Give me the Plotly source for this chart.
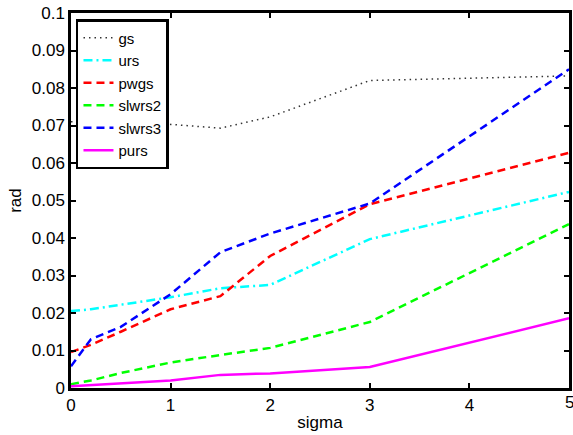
import plotly.graph_objects as go

# sigma values on the x axis
sigma = [0, 0.2, 0.5, 1, 1.5, 2, 3, 5]

# rad error for each method
gs = [0.071, 0.0708, 0.0705, 0.0703, 0.0693, 0.0723, 0.0820, 0.0832]
urs = [0.0205, 0.0210, 0.0222, 0.0242, 0.0266, 0.0275, 0.0397, 0.0523]
pwgs = [0.0096, 0.0115, 0.0150, 0.0210, 0.0245, 0.0352, 0.0490, 0.0627]
slwrs2 = [0.0010, 0.0020, 0.0040, 0.0068, 0.0088, 0.0107, 0.0176, 0.0437]
slwrs3 = [0.0058, 0.0130, 0.0163, 0.0250, 0.0362, 0.0412, 0.0492, 0.0850]
purs = [0.0005, 0.0008, 0.0013, 0.0020, 0.0035, 0.0039, 0.0056, 0.0186]

x_ticks = [0, 1, 2, 3, 4, 5]
y_ticks = [0, 0.01, 0.02, 0.03, 0.04, 0.05, 0.06, 0.07, 0.08, 0.09, 0.1]
y_tick_text = ['0', '0.01', '0.02', '0.03', '0.04', '0.05', '0.06', '0.07', '0.08', '0.09', '0.1']

series = [
    ('gs', gs, '#333333', '1.5px,4px', 1.5),
    ('urs', urs, '#00ffff', '9px,4px,2px,4px', 2.5),
    ('pwgs', pwgs, '#ff0000', '8px,5px', 2.5),
    ('slwrs2', slwrs2, '#00ff00', '8px,5px', 2.5),
    ('slwrs3', slwrs3, '#0000ff', '8px,5px', 2.5),
    ('purs', purs, '#ff00ff', 'solid', 2.5),
]

fig = go.Figure()
for name, vals, color, dash, width in series:
    fig.add_trace(go.Scatter(
        x=sigma, y=vals, mode='lines', name=name,
        line=dict(color=color, dash=dash, width=width),
    ))

axis_style = dict(
    showline=True, linecolor='black', linewidth=2.5, mirror='allticks',
    ticks='inside', ticklen=5, tickwidth=1.5, tickcolor='black',
    showgrid=False, zeroline=False,
    tickfont=dict(size=17, color='black'),
)

fig.update_layout(
    width=573, height=435,
    margin=dict(l=71, r=1, t=13, b=47),
    paper_bgcolor='white', plot_bgcolor='white',
    font=dict(family='Liberation Sans, Arial, Helvetica, sans-serif', size=17, color='black'),
    xaxis=dict(range=[0, 5], tickvals=x_ticks,
               title=dict(text='sigma', font=dict(size=17), standoff=2), **axis_style),
    yaxis=dict(range=[0, 0.1], tickvals=y_ticks, ticktext=y_tick_text,
               title=dict(text='rad', font=dict(size=17), standoff=6), **axis_style),
    legend=dict(
        x=0.01, y=0.984, xanchor='left', yanchor='top',
        bgcolor='white', bordercolor='black', borderwidth=2.5,
        font=dict(size=15, color='black'), tracegroupgap=0,
    ),
    showlegend=True,
)

# the last x tick label sits on the page edge and plotly drops it; put it back
fig.add_annotation(x=x_ticks[-1], y=0, xref='x', yref='y', text=str(x_ticks[-1]),
                   showarrow=False, yanchor='top', yshift=-3,
                   font=dict(size=17, color='black'))

# page body has an 8px default margin; drop it so the figure sits at 0,0
fig.write_html('out.html', config={'displayModeBar': False},
               post_script="document.body.style.margin='0';")
